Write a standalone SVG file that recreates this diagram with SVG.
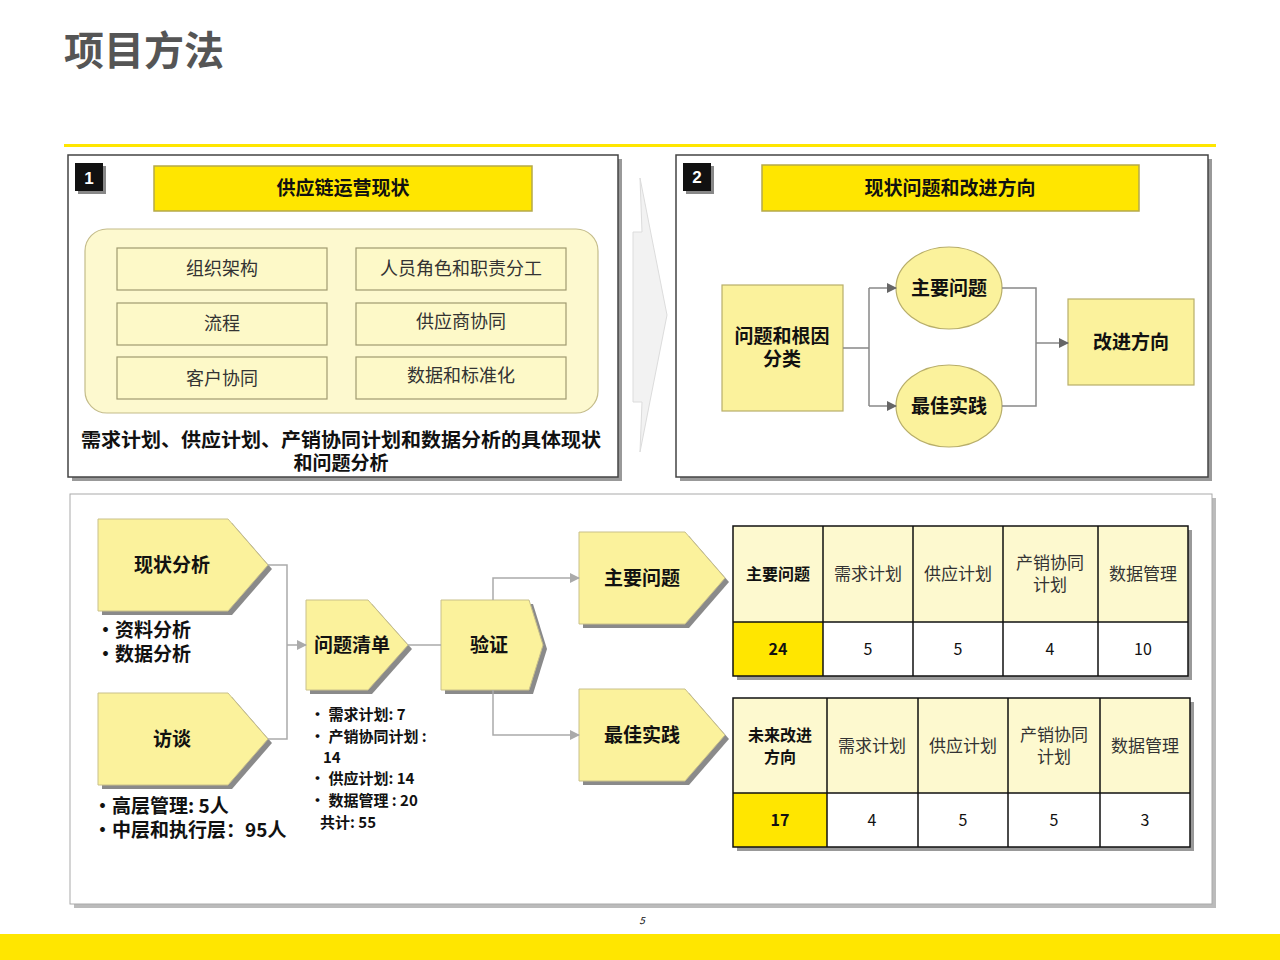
<svg xmlns="http://www.w3.org/2000/svg" width="1280" height="960" viewBox="0 0 1280 960">
<defs>
<style>
text{font-family:"Noto Sans CJK SC","Liberation Sans",sans-serif;fill:#111}
.b{font-weight:bold}
.panel{fill:#fff;stroke:#444;stroke-width:1.5}
.sh{fill:#999}
.hdr{fill:#FFE600;stroke:#b5a94a;stroke-width:1.5}
.ly{fill:#FBF29C;stroke:#b8ae6a;stroke-width:1.2}
.cell{fill:#FDF9C8;stroke:#a09a70;stroke-width:1.2}
.pent{fill:#FBF29C;stroke:#c9c08a;stroke-width:1}
.psh{fill:#8a8a8a}
.ln{fill:none;stroke:#aaa;stroke-width:1.5}
.tb{stroke:#111;stroke-width:1.5}
.ctr{text-anchor:middle}
</style>
<marker id="ar" markerWidth="10" markerHeight="10" refX="9" refY="5" orient="auto" markerUnits="userSpaceOnUse"><path d="M0,0 L10,5 L0,10 z" fill="#aaa"/></marker>
<marker id="ar2" markerWidth="10" markerHeight="10" refX="9" refY="5" orient="auto" markerUnits="userSpaceOnUse"><path d="M0,0 L10,5 L0,10 z" fill="#666"/></marker>
</defs>
<text x="64" y="65" class="b" font-size="40" style="fill:#555">项目方法</text>
<rect x="64" y="144" width="1152" height="3" fill="#FFE600"/>
<rect x="0" y="934" width="1280" height="26" fill="#FFE600"/>
<text x="642" y="924" font-size="10" font-style="italic" class="ctr">5</text>

<g id="panel1">
<rect x="72" y="159" width="550" height="322" class="sh"/>
<rect x="68" y="155" width="550" height="322" class="panel"/>
<rect x="78" y="166" width="28" height="28" fill="#888"/>
<rect x="75" y="163" width="28" height="28" fill="#111"/>
<text x="89" y="184" class="b ctr" font-size="17" style="fill:#fff;font-family:'Liberation Sans',sans-serif">1</text>
<rect x="154" y="166" width="378" height="45" class="hdr"/>
<text x="343" y="195" class="b ctr" font-size="19">供应链运营现状</text>
<rect x="85" y="229" width="513" height="184" rx="22" fill="#FDF9CF" stroke="#c4bc8a" stroke-width="1.2"/>
<rect x="117" y="248" width="210" height="42" class="cell"/><text x="222" y="275" class="ctr" font-size="18" style="fill:#333">组织架构</text>
<rect x="356" y="248" width="210" height="42" class="cell"/><text x="461" y="275" class="ctr" font-size="18" style="fill:#333">人员角色和职责分工</text>
<rect x="117" y="303" width="210" height="42" class="cell"/><text x="222" y="330" class="ctr" font-size="18" style="fill:#333">流程</text>
<rect x="356" y="303" width="210" height="42" class="cell"/><text x="461" y="328" class="ctr" font-size="18" style="fill:#333">供应商协同</text>
<rect x="117" y="357" width="210" height="42" class="cell"/><text x="222" y="385" class="ctr" font-size="18" style="fill:#333">客户协同</text>
<rect x="356" y="357" width="210" height="42" class="cell"/><text x="461" y="382" class="ctr" font-size="18" style="fill:#333">数据和标准化</text>
<text x="341" y="447" class="b ctr" font-size="19" textLength="520" lengthAdjust="spacingAndGlyphs">需求计划、供应计划、产销协同计划和数据分析的具体现状</text>
<text x="341" y="470" class="b ctr" font-size="19">和问题分析</text>
</g>

<g id="bigarrow">
<polygon points="640,178 667,315 640,452 642,402 633,402 633,232 642,232" fill="#f2f2f2" stroke="#dcdcdc"/>
</g>

<g id="panel2">
<rect x="680" y="159" width="532" height="322" class="sh"/>
<rect x="676" y="155" width="532" height="322" class="panel"/>
<rect x="686" y="166" width="28" height="28" fill="#888"/>
<rect x="683" y="163" width="28" height="28" fill="#111"/>
<text x="697" y="183" class="b ctr" font-size="17" style="fill:#fff;font-family:'Liberation Sans',sans-serif">2</text>
<rect x="762" y="165" width="377" height="46" class="hdr"/>
<text x="950" y="195" class="b ctr" font-size="19">现状问题和改进方向</text>
</g>
<g id="rootcause"><rect x="722" y="285" width="121" height="126" class="ly"/>
<text x="782" y="343" class="b ctr" font-size="19">问题和根因</text><text x="782" y="366" class="b ctr" font-size="19">分类</text></g>
<g id="mainissue2"><ellipse cx="949" cy="288" rx="53" ry="41" class="ly"/><text x="949" y="295" class="b ctr" font-size="19">主要问题</text></g>
<g id="best2"><ellipse cx="949" cy="406" rx="53" ry="41" class="ly"/><text x="949" y="413" class="b ctr" font-size="19">最佳实践</text></g>
<g id="improve"><rect x="1068" y="299" width="126" height="86" class="ly"/><text x="1131" y="349" class="b ctr" font-size="19">改进方向</text></g>

<g id="panel3">
<rect x="74" y="498" width="1142" height="410" fill="#bbb"/>
<rect x="70" y="494" width="1142" height="410" fill="#fff" stroke="#aaa" stroke-width="1"/>
</g>

<g id="xzfx"><polygon points="102,523 232,523 272,569 232,615 102,615" class="psh"/><polygon points="98,519 228,519 268,565 228,611 98,611" class="pent"/>
<text x="172" y="572" class="b ctr" font-size="19">现状分析</text></g>
<text x="96" y="637" class="b" font-size="19">•资料分析</text>
<text x="96" y="661" class="b" font-size="19">•数据分析</text>
<g id="ft"><polygon points="102,697 232,697 272,743 232,789 102,789" class="psh"/><polygon points="98,693 228,693 268,739 228,785 98,785" class="pent"/>
<text x="172" y="746" class="b ctr" font-size="19">访谈</text></g>
<text x="93" y="813" class="b" font-size="19">•高层管理: 5人</text>
<text x="93" y="837" class="b" font-size="19">•中层和执行层：95人</text>
<g id="wtqd"><polygon points="310,604 372,604 412,649 372,694 310,694" class="psh"/><polygon points="306,600 368,600 408,645 368,690 306,690" class="pent"/>
<text x="352" y="652" class="b ctr" font-size="19">问题清单</text></g>
<text x="310" y="720" class="b" font-size="15">• 需求计划: 7</text>
<text x="310" y="742" class="b" font-size="15">• 产销协同计划 :</text>
<text x="323" y="763" class="b" font-size="15">14</text>
<text x="310" y="784" class="b" font-size="15">• 供应计划: 14</text>
<text x="310" y="806" class="b" font-size="15">• 数据管理 : 20</text>
<text x="320" y="828" class="b" font-size="15">共计:  55</text>
<g id="yz"><polygon points="445,604 533,604 547,649 533,694 445,694" class="psh"/><polygon points="441,600 529,600 543,645 529,690 441,690" class="pent"/>
<text x="489" y="652" class="b ctr" font-size="19">验证</text></g>
<g id="zywt"><polygon points="583,536 689,536 729,582 689,628 583,628" class="psh"/><polygon points="579,532 685,532 725,578 685,624 579,624" class="pent"/>
<text x="642" y="585" class="b ctr" font-size="19">主要问题</text></g>
<g id="zjsj"><polygon points="583,693 689,693 729,739 689,785 583,785" class="psh"/><polygon points="579,689 685,689 725,735 685,781 579,781" class="pent"/>
<text x="642" y="742" class="b ctr" font-size="19">最佳实践</text></g>

<g id="connectors">
<path d="M843,348 H869 M869,288 V406" class="ln" style="stroke:#888"/>
<path d="M869,288 H896" class="ln" style="stroke:#888" marker-end="url(#ar2)"/>
<path d="M869,406 H896" class="ln" style="stroke:#888" marker-end="url(#ar2)"/>
<path d="M1002,288 H1036 V406 H1002" class="ln" style="stroke:#888"/>
<path d="M1036,343 H1068" class="ln" style="stroke:#888" marker-end="url(#ar2)"/>
<path d="M268,565 H287 V739 H268" class="ln"/>
<path d="M287,645 H306" class="ln" marker-end="url(#ar)"/>
<path d="M408,645 H441" class="ln"/>
<path d="M493,600 V578 H579" class="ln" marker-end="url(#ar)"/>
<path d="M493,690 V735 H579" class="ln" marker-end="url(#ar)"/>
</g>

<g id="table1">
<rect x="737" y="530" width="455" height="150" fill="#999"/>
<rect x="733" y="526" width="455" height="96" fill="#FDF9CF"/>
<rect x="733" y="622" width="90" height="54" fill="#FFE600"/>
<rect x="823" y="622" width="365" height="54" fill="#fff"/>
<rect x="733" y="526" width="455" height="150" fill="none" class="tb" stroke-width="2.5"/>
<path d="M733,622 H1188 M823,526 V676 M913,526 V676 M1003,526 V676 M1098,526 V676" class="tb"/>
<text x="778" y="580" class="b ctr" font-size="16">主要问题</text>
<text x="868" y="580" class="ctr" font-size="17" style="fill:#333">需求计划</text>
<text x="958" y="580" class="ctr" font-size="17" style="fill:#333">供应计划</text>
<text x="1050" y="569" class="ctr" font-size="17" style="fill:#333">产销协同</text>
<text x="1050" y="591" class="ctr" font-size="17" style="fill:#333">计划</text>
<text x="1143" y="580" class="ctr" font-size="17" style="fill:#333">数据管理</text>
<text x="778" y="655" class="b ctr" font-size="16">24</text>
<text x="868" y="655" class="ctr" font-size="16">5</text>
<text x="958" y="655" class="ctr" font-size="16">5</text>
<text x="1050" y="655" class="ctr" font-size="16">4</text>
<text x="1143" y="655" class="ctr" font-size="16">10</text>
</g>
<g id="table2">
<rect x="737" y="702" width="457" height="149" fill="#999"/>
<rect x="733" y="698" width="457" height="95" fill="#FDF9CF"/>
<rect x="733" y="793" width="94" height="54" fill="#FFE600"/>
<rect x="827" y="793" width="363" height="54" fill="#fff"/>
<rect x="733" y="698" width="457" height="149" fill="none" class="tb" stroke-width="2.5"/>
<path d="M733,793 H1190 M827,698 V847 M918,698 V847 M1008,698 V847 M1100,698 V847" class="tb"/>
<text x="780" y="741" class="b ctr" font-size="16">未来改进</text>
<text x="780" y="763" class="b ctr" font-size="16">方向</text>
<text x="872" y="752" class="ctr" font-size="17" style="fill:#333">需求计划</text>
<text x="963" y="752" class="ctr" font-size="17" style="fill:#333">供应计划</text>
<text x="1054" y="741" class="ctr" font-size="17" style="fill:#333">产销协同</text>
<text x="1054" y="763" class="ctr" font-size="17" style="fill:#333">计划</text>
<text x="1145" y="752" class="ctr" font-size="17" style="fill:#333">数据管理</text>
<text x="780" y="826" class="b ctr" font-size="16">17</text>
<text x="872" y="826" class="ctr" font-size="16">4</text>
<text x="963" y="826" class="ctr" font-size="16">5</text>
<text x="1054" y="826" class="ctr" font-size="16">5</text>
<text x="1145" y="826" class="ctr" font-size="16">3</text>
</g>
</svg>
